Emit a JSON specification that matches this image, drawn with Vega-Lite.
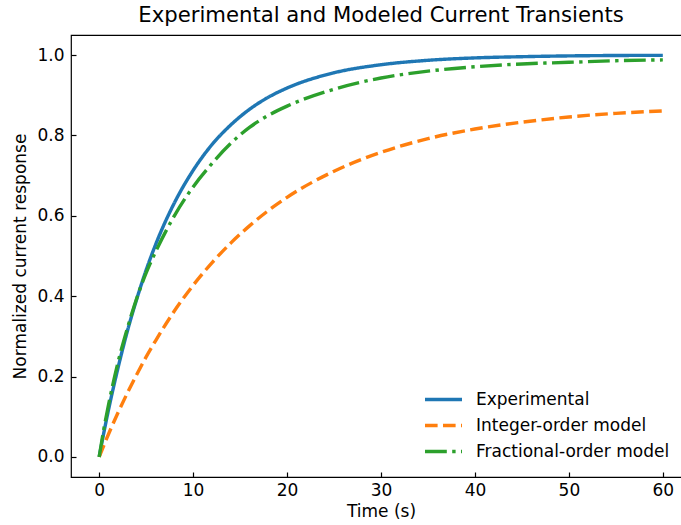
{
  "$schema": "https://vega.github.io/schema/vega-lite/v6.json",
  "width": 620,
  "height": 442,
  "autosize": {"type": "none"},
  "padding": {"left": 71, "top": 35, "right": 0, "bottom": 48},
  "title": {"text": "Experimental and Modeled Current Transients", "anchor": "middle", "frame": "group", "dy": 16, "offset": 8, "baseline": "alphabetic", "fontSize": 21.2, "font": "DejaVu Sans", "fontWeight": "normal", "color": "#000"},
  "config": {
    "view": {"stroke": "#000", "strokeWidth": 1.2},
    "axis": {"domain": false, "grid": false, "tickColor": "#000", "tickSize": -5, "tickWidth": 1.2, "labelFont": "DejaVu Sans", "labelFontSize": 17, "labelColor": "#000", "titleFont": "DejaVu Sans", "titleFontSize": 17, "titleFontWeight": "normal", "titleColor": "#000"},
    "axisX": {"labelPadding": 10, "titlePadding": 5},
    "axisY": {"labelPadding": 12, "titlePadding": 7},
    "legend": {"orient": "none", "legendX": 361.5, "legendY": 353.5, "symbolType": "M-2,0H2", "symbolSize": 342, "symbolStrokeWidth": 3.4, "labelFontSize": 17, "labelFont": "DejaVu Sans", "labelColor": "#000", "rowPadding": 7, "labelOffset": 21.5, "padding": 0, "labelLimit": 400}
  },
  "data": {"values": [
    {"t": 0, "y": 0, "series": "Experimental"},
    {"t": 0.5, "y": 0.061, "series": "Experimental"},
    {"t": 1, "y": 0.118, "series": "Experimental"},
    {"t": 2, "y": 0.221, "series": "Experimental"},
    {"t": 3, "y": 0.313, "series": "Experimental"},
    {"t": 4, "y": 0.393, "series": "Experimental"},
    {"t": 5, "y": 0.465, "series": "Experimental"},
    {"t": 6, "y": 0.528, "series": "Experimental"},
    {"t": 8, "y": 0.632, "series": "Experimental"},
    {"t": 10, "y": 0.713, "series": "Experimental"},
    {"t": 12, "y": 0.777, "series": "Experimental"},
    {"t": 14, "y": 0.826, "series": "Experimental"},
    {"t": 16, "y": 0.865, "series": "Experimental"},
    {"t": 18, "y": 0.895, "series": "Experimental"},
    {"t": 20, "y": 0.918, "series": "Experimental"},
    {"t": 25, "y": 0.956, "series": "Experimental"},
    {"t": 30, "y": 0.976, "series": "Experimental"},
    {"t": 35, "y": 0.987, "series": "Experimental"},
    {"t": 40, "y": 0.993, "series": "Experimental"},
    {"t": 45, "y": 0.996, "series": "Experimental"},
    {"t": 50, "y": 0.998, "series": "Experimental"},
    {"t": 55, "y": 0.999, "series": "Experimental"},
    {"t": 60, "y": 0.9994, "series": "Experimental"},
    {"t": 0, "y": 0, "series": "Integer-order model"},
    {"t": 0.5, "y": 0.029, "series": "Integer-order model"},
    {"t": 1, "y": 0.057, "series": "Integer-order model"},
    {"t": 2, "y": 0.11, "series": "Integer-order model"},
    {"t": 3, "y": 0.159, "series": "Integer-order model"},
    {"t": 4, "y": 0.205, "series": "Integer-order model"},
    {"t": 5, "y": 0.249, "series": "Integer-order model"},
    {"t": 6, "y": 0.289, "series": "Integer-order model"},
    {"t": 8, "y": 0.363, "series": "Integer-order model"},
    {"t": 10, "y": 0.427, "series": "Integer-order model"},
    {"t": 12, "y": 0.483, "series": "Integer-order model"},
    {"t": 14, "y": 0.532, "series": "Integer-order model"},
    {"t": 16, "y": 0.575, "series": "Integer-order model"},
    {"t": 18, "y": 0.613, "series": "Integer-order model"},
    {"t": 20, "y": 0.646, "series": "Integer-order model"},
    {"t": 25, "y": 0.711, "series": "Integer-order model"},
    {"t": 30, "y": 0.758, "series": "Integer-order model"},
    {"t": 35, "y": 0.792, "series": "Integer-order model"},
    {"t": 40, "y": 0.816, "series": "Integer-order model"},
    {"t": 45, "y": 0.833, "series": "Integer-order model"},
    {"t": 50, "y": 0.846, "series": "Integer-order model"},
    {"t": 55, "y": 0.855, "series": "Integer-order model"},
    {"t": 60, "y": 0.861, "series": "Integer-order model"},
    {"t": 0, "y": 0, "series": "Fractional-order model"},
    {"t": 0.5, "y": 0.07, "series": "Fractional-order model"},
    {"t": 1, "y": 0.13, "series": "Fractional-order model"},
    {"t": 2, "y": 0.235, "series": "Fractional-order model"},
    {"t": 3, "y": 0.32, "series": "Fractional-order model"},
    {"t": 4, "y": 0.395, "series": "Fractional-order model"},
    {"t": 5, "y": 0.458, "series": "Fractional-order model"},
    {"t": 6, "y": 0.51, "series": "Fractional-order model"},
    {"t": 8, "y": 0.6, "series": "Fractional-order model"},
    {"t": 10, "y": 0.672, "series": "Fractional-order model"},
    {"t": 12, "y": 0.73, "series": "Fractional-order model"},
    {"t": 14, "y": 0.78, "series": "Fractional-order model"},
    {"t": 16, "y": 0.82, "series": "Fractional-order model"},
    {"t": 18, "y": 0.85, "series": "Fractional-order model"},
    {"t": 20, "y": 0.873, "series": "Fractional-order model"},
    {"t": 25, "y": 0.915, "series": "Fractional-order model"},
    {"t": 30, "y": 0.943, "series": "Fractional-order model"},
    {"t": 35, "y": 0.96, "series": "Fractional-order model"},
    {"t": 40, "y": 0.971, "series": "Fractional-order model"},
    {"t": 45, "y": 0.978, "series": "Fractional-order model"},
    {"t": 50, "y": 0.982, "series": "Fractional-order model"},
    {"t": 55, "y": 0.986, "series": "Fractional-order model"},
    {"t": 60, "y": 0.988, "series": "Fractional-order model"}
  ]},
  "mark": {"type": "line", "strokeWidth": 3.4, "interpolate": "monotone", "strokeCap": "butt"},
  "encoding": {
    "x": {"field": "t", "type": "quantitative", "scale": {"domain": [-3, 63], "nice": false, "zero": false}, "axis": {"values": [0, 10, 20, 30, 40, 50, 60], "title": "Time (s)"}},
    "y": {"field": "y", "type": "quantitative", "scale": {"domain": [-0.05, 1.05], "nice": false}, "axis": {"values": [0, 0.2, 0.4, 0.6, 0.8, 1.0], "format": ".1f", "title": "Normalized current response"}},
    "color": {"field": "series", "type": "nominal", "scale": {"domain": ["Experimental", "Integer-order model", "Fractional-order model"], "range": ["#1f77b4", "#ff7f0e", "#2ca02c"]}, "legend": {"title": null}},
    "strokeDash": {"field": "series", "type": "nominal", "scale": {"domain": ["Experimental", "Integer-order model", "Fractional-order model"], "range": [[1, 0], [12.6, 5.4], [21.8, 5.4, 3.4, 5.4]]}, "legend": {"title": null}}
  }
}
